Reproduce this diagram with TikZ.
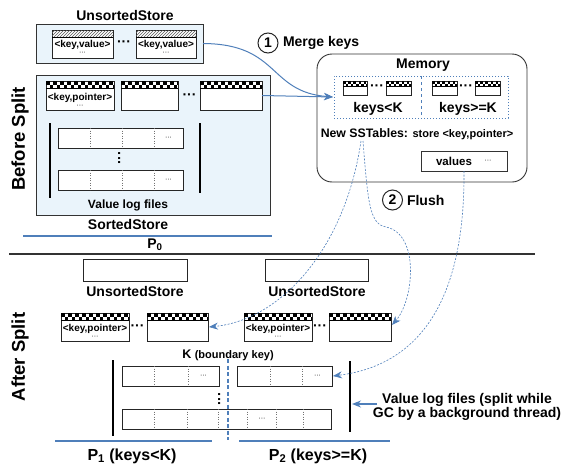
\documentclass[tikz,border=0pt]{standalone}
\usepackage{fontspec}
\setmainfont{Liberation Sans}
\usetikzlibrary{arrows.meta,patterns}
\definecolor{panel}{HTML}{EAF4FB}
\definecolor{lnblue}{HTML}{4F7FBA}
\newcommand\chk[3]{%
  \begin{scope}
    \clip (#1.north west) rectangle ([yshift=-2*#2 pt]#1.north east);
    \foreach \k in {0,...,#3}{
      \pgfmathsetmacro\yy{mod(\k,2)*#2}
      \fill ([xshift=\k*#2 pt, yshift=-\yy pt]#1.north west) rectangle ++(#2,#2);
    }
  \end{scope}
  \draw[line width=0.6pt] ([yshift=-2*#2 pt]#1.north west) -- ([yshift=-2*#2 pt]#1.north east);
}
\newcommand\hatchhead[1]{%
  \fill[pattern=north east lines, pattern color=black!65] (#1.north west) rectangle ([yshift=-7pt]#1.north east);
  \draw[line width=0.6pt] ([yshift=-7pt]#1.north west) -- ([yshift=-7pt]#1.north east);
}
\begin{document}
\begin{tikzpicture}[x=1pt,y=-1pt,
  every node/.style={inner sep=0pt, outer sep=0pt},
  big/.style={font=\fontsize{14}{16}\selectfont\bfseries},
  huge/.style={font=\fontsize{18.5}{20}\selectfont\bfseries},
  mid/.style={font=\fontsize{12}{14}\selectfont\bfseries},
  small/.style={font=\fontsize{10}{11}\selectfont\bfseries},
  tiny/.style={font=\fontsize{7}{7}\selectfont},
  panelbox/.style={draw=black!80, fill=panel, line width=0.8pt},
  sst/.style={draw=black!85, fill=white, line width=0.8pt},
  vrow/.style={draw=black!85, fill=white, line width=0.8pt},
  divider/.style={draw=black!55, line width=0.5pt, dotted},
  bar/.style={draw=black, line width=1.5pt},
  pline/.style={draw=lnblue, line width=2.2pt},
  arr/.style={draw=lnblue, line width=1pt, -{Stealth[length=9pt,width=7pt]}},
  darr/.style={draw=lnblue, line width=0.6pt, dash pattern=on 2pt off 1.5pt, -{Stealth[length=9pt,width=7pt]}},
  numc/.style={circle, draw=black!85, line width=1pt, minimum size=20pt, font=\fontsize{14}{16}\selectfont\bfseries},
]
\useasboundingbox (0,0) rectangle (568,466);

% ================= BEFORE SPLIT =================
\node[huge, rotate=90] (before) at (20,139) {Before Split};

% UnsortedStore (top)
\node[big] (lblus) at (125,15) {UnsortedStore};
\node[panelbox, minimum width=167pt, minimum height=39pt] (usbox) at (119.5,43.5) {};
\node[sst, minimum width=61pt, minimum height=28pt] (kv1) at (82.5,44) {};
\node[sst, minimum width=60pt, minimum height=28pt] (kv2) at (166,44) {};
\hatchhead{kv1}\hatchhead{kv2}
\node[small] (kv1t) at (82.5,44.5) {<key,value>};
\node[tiny] (kv1d) at (82.5,53.5) {···};
\node[small] (kv2t) at (166,44.5) {<key,value>};
\node[tiny] (kv2d) at (166,53.5) {···};
\node[big] (kvdots) at (124,44) {···};

% SortedStore
\node[panelbox, minimum width=234pt, minimum height=140pt] (sortbox) at (153,145) {};
\node[sst, minimum width=68pt, minimum height=29pt] (pt1) at (80,95.5) {};
\node[sst, minimum width=57pt, minimum height=29pt] (pt2) at (149.5,95.5) {};
\node[sst, minimum width=62pt, minimum height=29pt] (pt3) at (231,95.5) {};
\chk{pt1}{3.5}{20}\chk{pt2}{3.5}{18}\chk{pt3}{3.5}{19}
\node[small] (pt1t) at (80,97.5) {<key,pointer>};
\node[tiny] (pt1d) at (80,106) {···};
\node[big] (ptdots) at (189.5,97) {···};

\draw[bar] (50,123) -- (50,198);
\draw[bar] (200,123) -- (200,193);
\node[vrow, minimum width=125pt, minimum height=20pt] (vl1) at (120.5,138) {};
\node[vrow, minimum width=125pt, minimum height=20pt] (vl2) at (120.5,180) {};
\foreach \xx in {90.5,122,154}{
  \draw[divider] (\xx,128) -- (\xx,148);
  \draw[divider] (\xx,170) -- (\xx,190);
}
\node[tiny] (vl1d) at (168.5,138) {···};
\node[tiny] (vl2d) at (168.5,180) {···};
\node[big] (vlvd) at (121,158) {\rotatebox{90}{···}};
\node[mid] (vlf) at (128,205) {Value log files};
\node[big] (lblss) at (128,224) {SortedStore};

\draw[pline] (23,236) -- (272,236);
\node[big] (p0) at (155,245) {P\textsubscript{0}};
\draw[draw=black!80, line width=1.8pt] (9,254) -- (535,254);

% ================= MEMORY =================
\node[draw=black!80, line width=0.9pt, rounded corners=15pt, fill=white, minimum width=210pt, minimum height=128pt] (mem) at (422,118) {};
\node[big] (memt) at (423,65) {Memory};
\node[draw=lnblue, line width=1pt, dotted, minimum width=174pt, minimum height=42pt] (dbox) at (421,97) {};
\draw[draw=lnblue, line width=1pt, dashed] (dbox.north) -- (dbox.south);
\node[sst, minimum width=24pt, minimum height=14pt] (m1) at (355,88) {};
\node[sst, minimum width=25pt, minimum height=14pt] (m2) at (398.5,88) {};
\node[sst, minimum width=25pt, minimum height=14pt] (m3) at (444.5,88) {};
\node[sst, minimum width=25pt, minimum height=14pt] (m4) at (487.5,88) {};
\chk{m1}{2.6}{10}\chk{m2}{2.6}{10}\chk{m3}{2.6}{10}\chk{m4}{2.6}{10}
\node[big] (md1) at (377,88) {···};
\node[big] (md2) at (466,88) {···};
\node[big] (klt) at (378,109) {keys<K};
\node[big] (kge) at (468,109) {keys>=K};
\node (newss) at (417,134) {\fontsize{12.3}{14}\selectfont\bfseries New SSTables: \fontsize{11}{14}\selectfont store <key,pointer>};
\node[draw=black!80, line width=0.9pt, fill=white, minimum width=86pt, minimum height=20pt] (vals) at (464,161) {};
\node[font=\fontsize{11.5}{13}\selectfont\bfseries] (valst) at (454,161.5) {values};
\node[tiny] (valsd) at (488,161) {···};

% step labels
\node[numc] (c1) at (268,43) {1};
\node[big, anchor=west] (merge) at (283,43) {Merge keys};
\node[numc] (c2) at (392.5,200) {2};
\node[big, anchor=west] (flush) at (407,200) {Flush};

% merge connectors
\coordinate (mergein) at (333,97);
\draw[arr] (usbox.east) .. controls (280,44) and (268,92) .. (mergein);
\draw[arr] (pt3.east) -- (mergein);

% ================= AFTER SPLIT =================
\node[huge, rotate=90] (after) at (20,357) {After Split};

\node[sst, minimum width=104pt, minimum height=22pt] (ua) at (135,270) {};
\node[big] (uat) at (135,291) {UnsortedStore};
\node[sst, minimum width=103pt, minimum height=22pt] (ub) at (316.5,270) {};
\node[big] (ubt) at (317,291) {UnsortedStore};

\node[sst, minimum width=68pt, minimum height=28pt] (sa) at (95,327) {};
\node[sst, minimum width=61pt, minimum height=28pt] (sb) at (177.5,327) {};
\node[sst, minimum width=68pt, minimum height=28pt] (sc) at (278,327) {};
\node[sst, minimum width=62pt, minimum height=28pt] (sd) at (360,327) {};
\chk{sa}{3.5}{20}\chk{sb}{3.5}{18}\chk{sc}{3.5}{20}\chk{sd}{3.5}{18}
\node[small] (sat) at (95,328.5) {<key,pointer>};
\node[tiny] (sad) at (95,337.5) {···};
\node[small] (sct) at (278,328.5) {<key,pointer>};
\node[tiny] (scd) at (278,337.5) {···};
\node[big] (sabd) at (137.5,328) {···};
\node[big] (scdd) at (320,328) {···};

\node (kb) at (228,355) {\fontsize{12.5}{14}\selectfont\bfseries K \fontsize{11}{14}\selectfont(boundary key)};
\draw[bar] (113,360) -- (113,436);
\draw[bar] (350,361) -- (350,432);
\node[vrow, minimum width=97pt, minimum height=20pt] (rl1) at (170.5,376) {};
\node[vrow, minimum width=95pt, minimum height=20pt] (rr1) at (284.5,376) {};
\node[vrow, minimum width=209pt, minimum height=20pt] (r2) at (226.5,419) {};
\foreach \xx in {154,188}{\draw[divider] (\xx,366) -- (\xx,386);}
\foreach \xx in {270,302}{\draw[divider] (\xx,366) -- (\xx,386);}
\foreach \xx in {154,187,218,247,276,303}{\draw[divider] (\xx,409) -- (\xx,429);}
\node[tiny] (rl1d) at (203.5,376) {···};
\node[tiny] (rr1d) at (317.5,376) {···};
\node[tiny] (r2d) at (262,419) {···};
\node[big] (rvd) at (221,399) {\rotatebox{90}{···}};
\draw[draw=lnblue, line width=1.2pt, dash pattern=on 4pt off 2.5pt] (228,359) -- (228,440);

\node (vlnote) at (467,407) {\fontsize{14}{16}\selectfont\bfseries\begin{tabular}{@{}c@{}}Value log files (split while\\[-2pt]GC by a background thread)\end{tabular}};
\coordinate (barpt) at (352,404);
\draw[arr, line width=1.2pt] (377,404) -- (barpt);

\draw[pline] (55,441) -- (212,441);
\draw[pline] (239,441) -- (390,441);
\node[font=\fontsize{16}{18}\selectfont\bfseries] (p1) at (132,456) {P\textsubscript{1} (keys<K)};
\node[font=\fontsize{16}{18}\selectfont\bfseries] (p2) at (318,456) {P\textsubscript{2} (keys>=K)};

% flush connectors
\coordinate (nsa) at (361,141);
\coordinate (nsb) at (363,141);
\coordinate (sbin) at (209,327);
\coordinate (sdin) at (392,325);
\coordinate (rr1in) at (333,376);
\draw[darr] (nsa) .. controls (345,250) and (280,320) .. (sbin);
\draw[darr] (nsb) .. controls (368,205) and (370,224) .. (386,227) .. controls (420,234) and (414,300) .. (sdin);
\draw[darr] (vals.south) .. controls (465,300) and (420,365) .. (rr1in);
\end{tikzpicture}
\end{document}
